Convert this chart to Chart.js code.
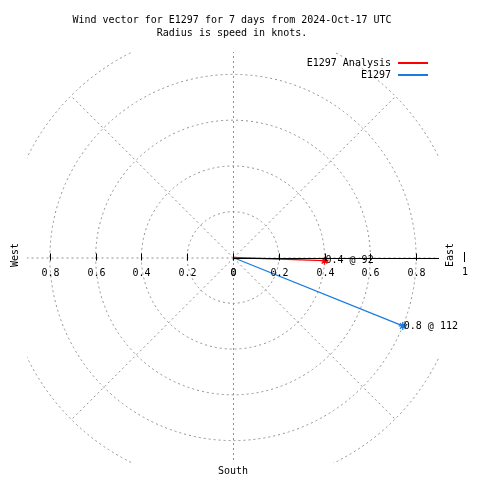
<!DOCTYPE html>
<html>
<head>
<meta charset="utf-8">
<script src="https://cdn.jsdelivr.net/npm/chart.js@4/dist/chart.umd.min.js"></script>
<style>
  html, body { margin: 0; padding: 0; background: #fff; }
  #wrap { width: 480px; height: 480px; }
</style>
</head>
<body>
<div id="wrap"><canvas id="windChart" width="480" height="480"></canvas></div>
<script>
// Wind vectors: speed (knots) and direction (degrees from north)
const seriesNames = ['E1297 Analysis', 'E1297'];
const seriesSpeeds = [0.4, 0.8];
const seriesDirections = [92, 112];
const seriesColors = ['#ff0000', '#1a7ae0'];

const ringValues = [0.2, 0.4, 0.6, 0.8, 1.0];
const spokeAngles = [0, 45, 90, 135, 180, 225, 270, 315];
const tickValues = [0, 0.2, 0.4, 0.6, 0.8];
const titleLines = [
    'Wind vector for E1297 for 7 days from 2024-Oct-17 UTC',
    'Radius is speed in knots.'
];

const FONT = "10px 'DejaVu Sans Mono', monospace";
const GRID = '#909090';

// convert speed/direction to x (east) / y (north)
const toXY = (s, d) => ({
    x: s * Math.sin(d * Math.PI / 180),
    y: s * Math.cos(d * Math.PI / 180)
});

const datasets = seriesNames.map((name, i) => {
    const tip = toXY(seriesSpeeds[i], seriesDirections[i]);
    return {
        label: name,
        data: [{ x: 0, y: 0 }, tip],
        showLine: true,
        borderColor: seriesColors[i],
        backgroundColor: seriesColors[i],
        borderWidth: 1.3,
        pointStyle: 'star',
        pointRadius: [0, 4],
        pointBorderWidth: 1.3,
        pointBorderColor: seriesColors[i],
        tipLabel: seriesSpeeds[i] + ' @ ' + seriesDirections[i]
    };
});

// polar grid, axis, labels and legend drawn against the chart scales
const polarPlugin = {
    id: 'polarGrid',
    beforeDatasetsDraw(chart) {
        const { ctx, chartArea: a, scales: { x, y } } = chart;
        const cx = x.getPixelForValue(0), cy = y.getPixelForValue(0);
        const unit = x.getPixelForValue(1) - cx;
        ctx.save();
        ctx.beginPath();
        ctx.rect(a.left, a.top, a.right - a.left, a.bottom - a.top);
        ctx.clip();
        ctx.strokeStyle = GRID;
        ctx.lineWidth = 1;
        ctx.setLineDash([2, 3]);
        ringValues.forEach(r => {
            ctx.beginPath();
            ctx.arc(cx, cy, r * unit, 0, Math.PI * 2);
            ctx.stroke();
        });
        spokeAngles.forEach(ang => {
            const p = toXY(1, ang);
            ctx.beginPath();
            ctx.moveTo(cx + 0.5, cy + 0.5);
            ctx.lineTo(x.getPixelForValue(p.x) + 0.5, y.getPixelForValue(p.y) + 0.5);
            ctx.stroke();
        });
        ctx.restore();
    },
    afterDatasetsDraw(chart) {
        const { ctx, chartArea: a, scales: { x, y } } = chart;
        const cx = x.getPixelForValue(0), cy = y.getPixelForValue(0);
        ctx.save();
        // solid radial axis toward east
        ctx.strokeStyle = '#000';
        ctx.lineWidth = 1;
        ctx.beginPath();
        ctx.moveTo(cx, Math.round(cy) + 0.5);
        ctx.lineTo(a.right, Math.round(cy) + 0.5);
        ctx.stroke();

        ctx.font = FONT;
        ctx.fillStyle = '#000';
        ctx.textAlign = 'center';
        ctx.textBaseline = 'middle';
        tickValues.forEach(v => {
            [v, -v].forEach(sv => {
                const px = Math.round(x.getPixelForValue(sv)) + 0.5;
                ctx.beginPath();
                ctx.moveTo(px, cy - 4);
                ctx.lineTo(px, cy + 3);
                ctx.stroke();
                ctx.fillText(String(v), px, cy + 16);
            });
        });

        // vector tip labels
        ctx.textAlign = 'left';
        chart.data.datasets.forEach(ds => {
            const tip = ds.data[1];
            ctx.fillText(ds.tipLabel, x.getPixelForValue(tip.x) + 1, y.getPixelForValue(tip.y));
        });

        // title
        ctx.textAlign = 'center';
        titleLines.forEach((t, i) => ctx.fillText(t, 232, 20 + i * 13));

        // legend
        ctx.textAlign = 'right';
        seriesNames.forEach((name, i) => {
            const ly = 63 + i * 12;
            ctx.fillStyle = '#000';
            ctx.fillText(name, 391, ly);
            ctx.fillStyle = seriesColors[i];
            ctx.fillRect(398, ly - 1, 30, 2);
        });

        // direction labels
        ctx.fillStyle = '#000';
        ctx.textAlign = 'center';
        ctx.fillText('South', cx, 471);
        ctx.fillText('1', 465, 272);
        ctx.fillRect(464, 252, 1, 10);
        ctx.save();
        ctx.translate(15, 255);
        ctx.rotate(-Math.PI / 2);
        ctx.fillText('West', 0, 0);
        ctx.restore();
        ctx.save();
        ctx.translate(450, 255);
        ctx.rotate(-Math.PI / 2);
        ctx.fillText('East', 0, 0);
        ctx.restore();
        ctx.restore();
    }
};

new Chart(document.getElementById('windChart'), {
    type: 'scatter',
    data: { datasets: datasets },
    options: {
        responsive: false,
        animation: false,
        layout: { padding: { left: 27, right: 41, top: 52, bottom: 17 } },
        scales: {
            x: { type: 'linear', min: -0.9, max: 0.9, display: false },
            y: { type: 'linear', min: -0.9, max: 0.9, display: false }
        },
        plugins: {
            legend: { display: false },
            title: { display: false },
            tooltip: { enabled: false }
        }
    },
    plugins: [polarPlugin]
});
</script>
</body>
</html>
